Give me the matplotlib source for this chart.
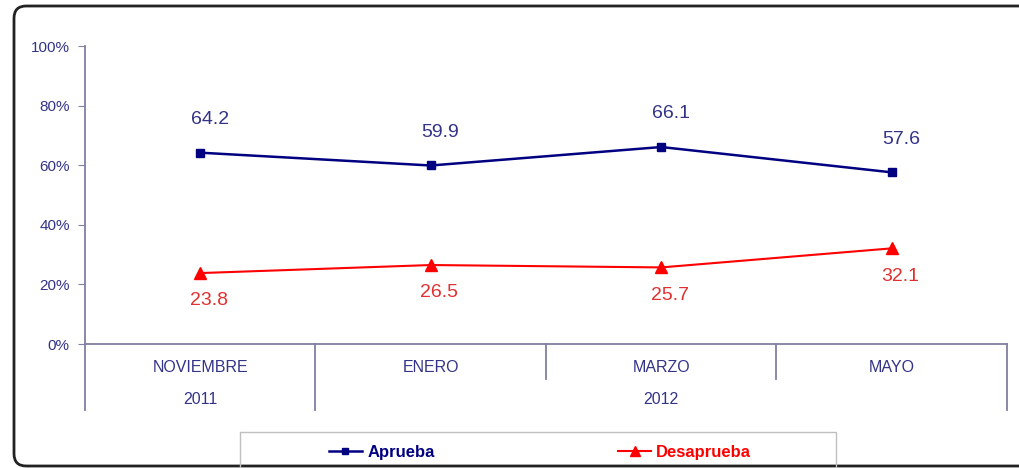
import numpy as np
import matplotlib
matplotlib.use("Agg")
import matplotlib.pyplot as plt
from matplotlib.patches import FancyBboxPatch, Rectangle

plt.rcParams['font.family'] = ['Liberation Sans', 'DejaVu Sans']

meses = ['NOVIEMBRE', 'ENERO', 'MARZO', 'MAYO']
anios = ['2011', '2012']
anio_de_mes = [0, 1, 1, 1]
aprueba = [64.2, 59.9, 66.1, 57.6]
desaprueba = [23.8, 26.5, 25.7, 32.1]
yticks = [0, 20, 40, 60, 80, 100]

W, H = 1020, 468
fig = plt.figure(figsize=(W / 100, H / 100), dpi=100)
ax = fig.add_axes([85 / W, 1 - 344 / H, 922 / W, 298 / H])

navy = '#000080'
txt_blue = '#333388'
axis_col = '#8080A0'
red = '#FF0000'
txt_red = '#E03030'

x = np.arange(len(meses))
l1, = ax.plot(x, aprueba, color=navy, lw=1.8, marker='s', ms=5.5, zorder=3)
l2, = ax.plot(x, desaprueba, color=red, lw=1.5, marker='^', ms=9, zorder=3)

for xi, v in zip(x, aprueba):
    ax.annotate(f'{v:.1f}', (xi, v), xytext=(7, 24), textcoords='offset points',
                ha='center', va='center', fontsize=14, color=txt_blue)
for xi, v in zip(x, desaprueba):
    ax.annotate(f'{v:.1f}', (xi, v), xytext=(6, -20), textcoords='offset points',
                ha='center', va='center', fontsize=14, color=txt_red)

ax.set_xlim(-0.5, len(meses) - 0.5)
ax.set_ylim(0, 100)
ax.set_yticks(yticks)
ax.set_yticklabels([f'{t}%' for t in yticks], fontsize=11, color=txt_blue)
ax.tick_params(axis='y', length=5, color=axis_col, pad=6)
ax.set_xticks([])
for s in ['top', 'right']:
    ax.spines[s].set_visible(False)
ax.spines['left'].set_color(axis_col)
ax.spines['bottom'].set_color(axis_col)
ax.spines['left'].set_linewidth(1.3)
ax.spines['bottom'].set_linewidth(1.3)

# multi-level category axis
tr = ax.get_xaxis_transform()
low = (344 - 410) / 298
mid = (344 - 379) / 298
bounds = np.arange(len(meses) + 1) - 0.5
for i, b in enumerate(bounds):
    if i == 0 or i == len(bounds) - 1:
        y0 = low
    elif anio_de_mes[i] != anio_de_mes[i - 1]:
        y0 = low
    else:
        y0 = mid
    ax.plot([b, b], [0, y0], transform=tr, color=axis_col, lw=1.3, clip_on=False)
for xi, m in zip(x, meses):
    ax.text(xi, (344 - 367) / 298, m, transform=tr, ha='center', va='center',
            fontsize=11.5, color=txt_blue)
for k, a in enumerate(anios):
    idx = [i for i, g in enumerate(anio_de_mes) if g == k]
    ax.text(np.mean(idx), (344 - 400) / 298, a, transform=tr, ha='center',
            va='center', fontsize=11.5, color=txt_blue)

# outer rounded frame
frame = FancyBboxPatch((14 / W, 1 - 466 / H), 1040 / W, 460 / H,
                       boxstyle='round,pad=0,rounding_size=0.012',
                       transform=fig.transFigure, fill=False,
                       ec='#222222', lw=2, mutation_aspect=W / H)
fig.patches.append(frame)

# legend box
fig.patches.append(Rectangle((240 / W, 1 - 480 / H), 596 / W, 48 / H,
                             transform=fig.transFigure, fill=False,
                             ec='#C0C0C0', lw=1))
fig.legend([l1, l2], ['Aprueba', 'Desaprueba'], loc='center',
           bbox_to_anchor=(540 / W, 1 - 452 / H), ncol=2, frameon=False,
           handlelength=2.0, handletextpad=0.3, columnspacing=11.0,
           prop={'weight': 'bold', 'size': 12}, labelcolor=[navy, red],
           markerscale=0.8)

fig.savefig('out.png', dpi=100)
